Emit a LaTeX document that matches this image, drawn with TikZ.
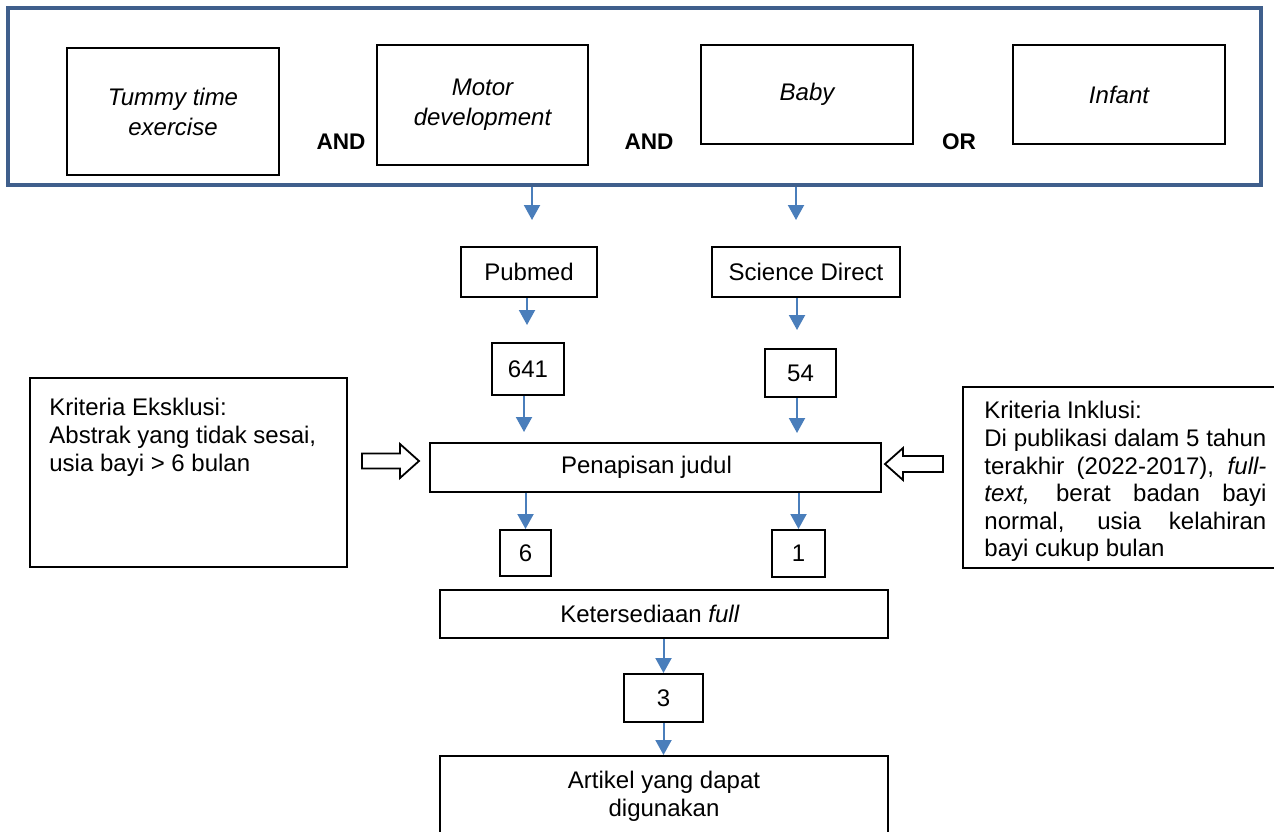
\documentclass[tikz,border=0pt]{standalone}
\usepackage{fontspec}
\setmainfont{Liberation Sans}
\usepackage{tikz}
\usetikzlibrary{arrows.meta, calc}
\definecolor{frameblue}{HTML}{3F5F8C}
\definecolor{flowblue}{HTML}{4A7EBB}
\newcommand{\flowfont}{\fontsize{12}{13.8}\selectfont}
\tikzset{
    box/.style={draw, line width=1pt, inner sep=0pt, align=center},
    keybox/.style={box, font=\fontsize{12}{15}\selectfont\itshape},
    opword/.style={font=\fontsize{11.3}{13}\selectfont\bfseries},
    flow/.style={-{Triangle[width=8pt, length=7.5pt]}, flowblue, line width=1pt},
    blockarrow/.style={draw, line width=0.9pt, fill=white, line join=miter},
}
\newcommand{\tikzflowarrow}[2]{%
    \draw[flow] (#1) -- (#2);
}

\begin{document}
\begin{tikzpicture}[x=0.5pt, y=-0.5pt, font=\flowfont]
            \useasboundingbox (0,0) rectangle (1274,831);

            \node[draw=frameblue, line width=2pt, minimum width=626.5pt, minimum height=88.5pt] (frame) at (634.5,96.5) {};

            \node[keybox, minimum width=106pt, minimum height=63.5pt] (tummy) at (173,111.5) {Tummy time\\exercise};
            \node[keybox, minimum width=105.5pt, minimum height=60pt] (motor) at (482.5,105) {Motor\\development};
            \node[keybox, minimum width=106pt, minimum height=49.5pt] (baby) at (807,94.5) {Baby};
            \node[keybox, minimum width=106pt, minimum height=49.5pt] (infant) at (1119,94.5) {Infant};

            \node[opword] (and1) at (341,142) {AND};
            \node[opword] (and2) at (649,142) {AND};
            \node[opword] (or) at (959,142) {OR};

            \node[box, minimum width=68pt, minimum height=25pt] (pubmed) at (529,272) {Pubmed};
            \node[box, minimum width=94pt, minimum height=25pt] (scidir) at (806,272) {Science Direct};
            \node[box, minimum width=36pt, minimum height=26pt] (n641) at (528,369) {641};
            \node[box, minimum width=35.5pt, minimum height=24pt] (n54) at (800.5,373) {54};

            \node[box, minimum width=225.5pt, minimum height=24.5pt] (penapisan) at (655.5,467.5) {Penapisan judul\hspace*{9pt}};

            \node[box, minimum width=158.5pt, minimum height=94.5pt] (exkl) at (188.5,472.5) {};
            \node[anchor=north west, align=left, inner sep=0pt] (exkltext) at ($(exkl.north west)+(20,21)$) {Kriteria Eksklusi:\\Abstrak yang tidak sesai,\\usia bayi > 6 bulan};

            \node[box, minimum width=157.5pt, minimum height=90.5pt] (inkl) at (1120.5,477.5) {};
            \node[anchor=north west, text width=141pt, align=justify, inner sep=0pt] (inkltext) at ($(inkl.north west)+(22,15)$) {Kriteria Inklusi:\par Di publikasi dalam 5 tahun\linebreak terakhir (2022-2017), \textit{full-}\linebreak \textit{text,} berat badan bayi\linebreak normal, usia kelahiran\linebreak bayi cukup bulan};

            \node[box, minimum width=25.5pt, minimum height=23pt] (n6) at (525.5,553) {6};
            \node[box, minimum width=26.5pt, minimum height=23.5pt] (n1) at (798.5,553.5) {1};
            \node[box, minimum width=224pt, minimum height=24pt] (keter) at (664,614) {Ketersediaan \textit{full}\hspace*{14pt}};
            \node[box, minimum width=39.5pt, minimum height=24pt] (n3) at (663.5,698) {3};
            \node[box, minimum width=224pt, minimum height=40pt] (artikel) at (664,796) {Artikel yang dapat\\digunakan};

            \draw[blockarrow] (362,453.5) -- (400,453.5) -- (400,444) -- (419,461) -- (400,478) -- (400,468.5) -- (362,468.5) -- cycle;
            \draw[blockarrow] (943,456) -- (903,456) -- (903,448) -- (885,464) -- (903,480) -- (903,472) -- (943,472) -- cycle;

            \coordinate (pmin) at (532,220);
            \coordinate (sdin) at (796,220);
            \coordinate (n641in) at (527,325);
            \coordinate (n54in) at (797,330);
            \coordinate (penin1) at (524,432);
            \coordinate (penin2) at (797,433);

            \tikzflowarrow{frame.south -| pmin}{pmin}
            \tikzflowarrow{frame.south -| sdin}{sdin}
            \tikzflowarrow{pubmed.south -| n641in}{n641in}
            \tikzflowarrow{scidir.south -| n54in}{n54in}
            \tikzflowarrow{n641.south -| penin1}{penin1}
            \tikzflowarrow{n54.south -| penin2}{penin2}
            \tikzflowarrow{penapisan.south -| n6.north}{n6.north}
            \tikzflowarrow{penapisan.south -| n1.north}{n1.north}
            \tikzflowarrow{keter.south -| n3.north}{n3.north}
            \tikzflowarrow{n3.south}{artikel.north -| n3.south}

        \end{tikzpicture}
\end{document}
